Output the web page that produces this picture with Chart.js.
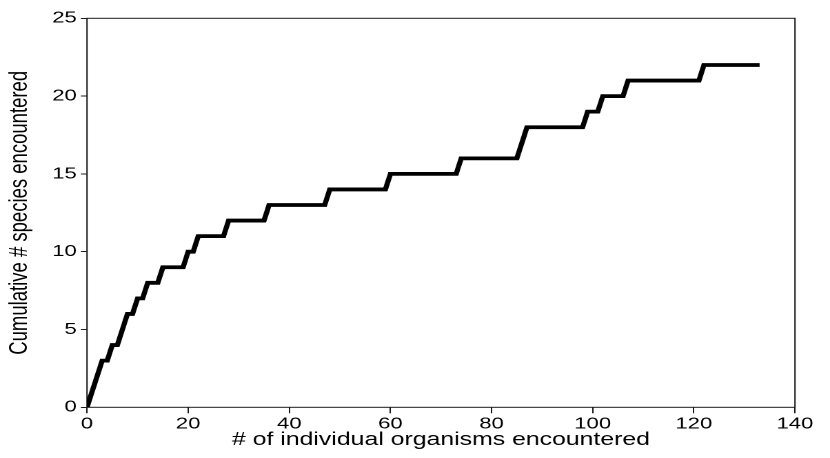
<!DOCTYPE html>
<html><head><meta charset="utf-8">
<script src="https://cdn.jsdelivr.net/npm/chart.js@4/dist/chart.umd.min.js"></script>
<style>
html,body{margin:0;padding:0;background:#fff;overflow:hidden;}
#wrap{position:absolute;left:0;top:0;width:602px;height:458px;transform:scaleX(1.37874);transform-origin:0 0;}
</style></head><body>
<div id="wrap"><canvas id="c"></canvas></div>
<script>
const individuals = [0,1,2,3,4,5,6,7,8,9,10,11,12,14,15,19,20,21,22,27,28,35,36,47,48,59,60,73,74,85,86,87,98,99,101,102,106,107,121,122,133];
const cumulativeSpecies = [0,1,2,3,3,4,4,5,6,6,7,7,8,8,9,9,10,10,11,11,12,12,13,13,14,14,15,15,16,16,17,18,18,19,19,20,20,21,21,22,22];
const xTicks = [0,20,40,60,80,100,120,140];
const yTicks = [0,5,10,15,20,25];
const xTitle = '# of individual organisms encountered';
const yTitle = 'Cumulative # species encountered';

const points = individuals.map((x,i)=>({x:x, y:cumulativeSpecies[i]}));
const AXIS = '#1a1a1a';
const FONT = '"Liberation Sans", Arial, Helvetica, sans-serif';

const framePlugin = {
  id:'frame',
  beforeDatasetsDraw(chart){
    const {ctx, chartArea:a} = chart;
    ctx.save();
    ctx.strokeStyle = AXIS;
    ctx.lineWidth = 1;
    ctx.strokeRect(a.left, a.top, a.right-a.left, a.bottom-a.top);
    ctx.restore();
  }
};

new Chart(document.getElementById('c'), {
  type:'line',
  data:{datasets:[{data:points, borderColor:'#000', borderWidth:3.8, pointRadius:0, tension:0, fill:false, borderJoinStyle:'miter'}]},
  options:{
    responsive:true, maintainAspectRatio:false, animation:false, devicePixelRatio:2,
    layout:{padding:{left:0, right:25.4, top:18.3, bottom:0}},
    plugins:{legend:{display:false}, tooltip:{enabled:false}},
    scales:{
      x:{type:'linear', min:0, max:140,
        afterBuildTicks(s){ s.ticks = xTicks.map(v=>({value:v})); },
        afterFit(s){ s.height = 50.7; },
        border:{display:false},
        grid:{drawOnChartArea:false, drawTicks:true, tickLength:6, color:AXIS, lineWidth:1},
        ticks:{color:'#000', font:{family:FONT, size:16}, padding:1, maxRotation:0, autoSkip:false},
        title:{display:true, text:xTitle, color:'#000', font:{family:FONT, size:18}, padding:{top:0,bottom:7}}
      },
      y:{type:'linear', min:0, max:25,
        afterBuildTicks(s){ s.ticks = yTicks.map(v=>({value:v})); },
        afterFit(s){ s.width = 63.1; },
        border:{display:false},
        grid:{drawOnChartArea:false, drawTicks:true, tickLength:4.4, color:AXIS, lineWidth:1},
        ticks:{color:'#000', font:{family:FONT, size:16}, padding:3, autoSkip:false},
        title:{display:true, text:yTitle, color:'#000', font:{family:FONT, size:18.5}, padding:{top:3.5,bottom:0}}
      }
    }
  },
  plugins:[framePlugin]
});
</script>
</body></html>
